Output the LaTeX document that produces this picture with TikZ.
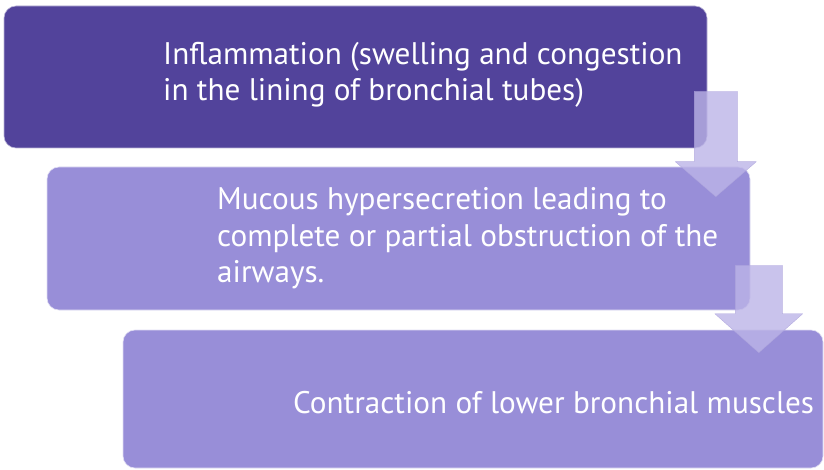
\documentclass[tikz,border=0pt]{standalone}
\usepackage{fontspec}
\setsansfont{PT Sans}
\usepackage{xcolor}
\usepackage{tikz}
\usetikzlibrary{calc,positioning}
\definecolor{brDeep}{HTML}{52439B}
\definecolor{brSoft}{HTML}{988ED8}
\definecolor{brArrow}{HTML}{BCB4E7}
\tikzset{
  br diagram/.style={font=\sffamily\fontsize{31.2}{36.5}\selectfont, text=white,
    line join=round},
  br box/.style={draw=white!70!brSoft, fill=brSoft, line width=0.6pt,
    rounded corners=12pt, inner sep=0pt},
  br key box/.style={br box, draw=white!60!brDeep, fill=brDeep},
  br text/.style={align=left, inner sep=0pt, anchor=base west},
  br arrow/.style={fill=brArrow, draw=brArrow!85!brDeep, line width=0.4pt,
    opacity=0.8}
}
\begin{document}
\begin{tikzpicture}[br diagram,x=1pt,y=-1pt]
\useasboundingbox (0,0) rectangle (824,470);
\node[br key box,minimum width=703pt,minimum height=142pt] (inflam) at (355.5,77) {};
\node[br box,minimum width=703pt,minimum height=143pt] (mucus) at (398.5,238.5) {};
\node[br box,minimum width=700pt,minimum height=138pt] (contract) at (473,399) {};
\node[br text] (inflamtext) at (163,101)
  {Inflammation (swelling and congestion\\in the lining of bronchial tubes)};
\node[br text] (mucustext) at (217,283)
  {Mucous hypersecretion leading to\\complete or partial obstruction of the\\airways.};
\node[br text] (contracttext) at (293,413) {Contraction of lower bronchial muscles};
% block arrows between the steps
\foreach \from/\to/\up/\down/\neck/\s/\h in
    {inflam/mucus/57/30/35/21.5/40.5, mucus/contract/45/23/39/23.5/44}{
  \coordinate (top) at ($(\from.south east)+(8.5,-\up)$);
  \coordinate (tip) at ($(\to.north -| top)+(0,\down)$);
  \path[br arrow] ($(top)+(-\s,0)$) -- ($(top)+(\s,0)$) -- ($(tip)+(\s,-\neck)$)
    -- ($(tip)+(\h,-\neck)$) -- (tip) -- ($(tip)+(-\h,-\neck)$)
    -- ($(tip)+(-\s,-\neck)$) -- cycle;
}
\end{tikzpicture}
\end{document}
